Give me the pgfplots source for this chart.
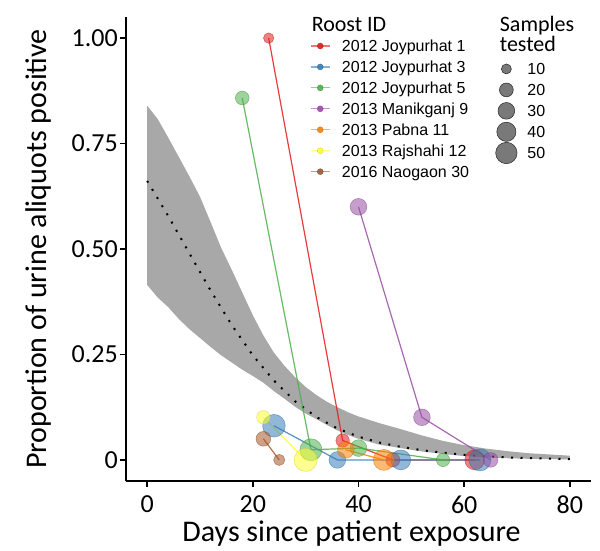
\documentclass[border=0pt]{standalone}
\usepackage{pgfplots}
\pgfplotsset{compat=1.18}
\usepackage{pgfplotstable}
\usepgfplotslibrary{fillbetween}
\usepackage{fontspec}
\setmainfont{Carlito}
\newfontfamily\arial{Liberation Sans}

\definecolor{cR}{HTML}{E41A1C}
\definecolor{cB}{HTML}{377EB8}
\definecolor{cG}{HTML}{4DAF4A}
\definecolor{cP}{HTML}{984EA3}
\definecolor{cO}{HTML}{FF7F00}
\definecolor{cY}{HTML}{FFFF33}
\definecolor{cN}{HTML}{A65628}
\definecolor{band}{RGB}{168,168,168}

% model fit band
\pgfplotstableread{
x y
0 0.840
2 0.808
4 0.764
6 0.718
8 0.672
10 0.624
12 0.564
14 0.503
16 0.451
18 0.397
20 0.343
22 0.295
24 0.254
26 0.223
28 0.196
30 0.173
32 0.154
34 0.138
36 0.125
38 0.113
40 0.103
44 0.087
48 0.073
52 0.058
56 0.045
60 0.035
64 0.027
68 0.021
72 0.016
76 0.013
80 0.010
}\bandU
\pgfplotstableread{
x y
0 0.415
2 0.385
4 0.362
6 0.334
8 0.310
10 0.289
12 0.268
14 0.248
16 0.231
18 0.214
20 0.199
22 0.183
24 0.163
26 0.145
28 0.126
30 0.110
32 0.097
34 0.083
36 0.070
38 0.059
40 0.050
44 0.036
48 0.028
52 0.020
56 0.014
60 0.009
64 0.006
68 0.004
72 0.0027
76 0.0018
80 0.0012
}\bandL
\pgfplotstableread{
x y
0 0.6615
4 0.578
8 0.4895
12 0.402
16 0.320
20 0.248
24 0.188
28 0.139
32 0.1018
36 0.0745
40 0.055
44 0.041
48 0.031
52 0.023
56 0.017
60 0.012
64 0.0085
68 0.006
72 0.0042
76 0.003
80 0.002
}\fitC

% roosts: day, proportion, samples tested
\pgfplotstableread{
x y n
23 1.000 11
37 0.046 19
46.5 0 21
62 0 43
}\jA
\pgfplotstableread{
x y n
24 0.081 56
36 0 30
48 0 43
63 0 53
}\jB
\pgfplotstableread{
x y n
18 0.858 20
31 0.024 53
40 0.028 30
56 0 19
}\jC
\pgfplotstableread{
x y n
40 0.600 30
52 0.101 30
65 0 23
}\mA
\pgfplotstableread{
x y n
37.6 0.024 30
44.8 0 48
}\pA
\pgfplotstableread{
x y n
22 0.101 19
30 0 58
}\rA
\pgfplotstableread{
x y n
22 0.050 23
25 0 13
}\nA

\pgfplotsset{
  ln/.style={no marks, draw=#1, draw opacity=0.85, line width=1.2pt, forget plot},
  pts/.style={scatter, only marks, mark=*, forget plot,
    visualization depends on={sqrt(2.6+2.24*\thisrow{n}) \as \msize},
    scatter/@pre marker code/.code={\edef\tmpopts{mark size=\msize pt}\expandafter\scope\expandafter[\tmpopts, draw=#1!80!black, fill=#1, fill opacity=0.55, draw opacity=0.5, line width=0.6pt]},
    scatter/@post marker code/.code={\endscope}},
  lg/.style={draw=#1, draw opacity=0.6, line width=1.2pt, mark=*, mark size=3pt,
    mark options={fill=#1, draw=#1!80!black, draw opacity=0.8, fill opacity=0.9, line width=0.4pt}},
}

\begin{document}
\begin{tikzpicture}[x=1pt,y=1pt]
\begin{axis}[
  at={(126pt,70pt)}, anchor=south west,
  scale only axis, width=465pt, height=464pt,
  xmin=-4, xmax=84, ymin=-0.05, ymax=1.05,
  clip=false,
  axis lines=left,
  axis line style={-, line width=1.5pt, black},
  tick align=outside,
  major tick length=6pt,
  tick style={line width=1.5pt, black},
  xtick={0,20,40,60,80},
  ytick={0,0.25,0.5,0.75,1},
  yticklabels={0,0.25,0.50,0.75,1.00},
  /pgf/number format/assume math mode=true,
  tick label style={font=\fontsize{26}{26}\selectfont, inner sep=0pt},
  xticklabel style={anchor=north, yshift=-8.7pt},
  yticklabel style={anchor=east, xshift=-2pt},
  xlabel={Days since patient exposure},
  ylabel={Proportion of urine aliquots positive},
  every axis x label/.style={at={(axis description cs:0.485,-0.131)}, anchor=base, inner sep=0pt, font=\fontsize{30}{30}\selectfont},
  every axis y label/.style={at={(axis description cs:-0.17,0.5)}, rotate=90, anchor=base, inner sep=0pt, font=\fontsize{30}{30}\selectfont},
  legend cell align=left,
  legend style={at={(axis description cs:0.3957,0.9601)}, anchor=north west,
    draw=none, fill=none, inner sep=0pt, outer sep=0pt, row sep=0pt, column sep=11.4pt,
    font=\arial\fontsize{16}{16}\selectfont,
    nodes={inner sep=0pt, text height=16.3pt, text depth=4.65pt}},
  legend image code/.code={
    \draw[#1, mark=none] (0pt,0pt) -- (19.3pt,0pt);
    \draw[#1, only marks] plot coordinates {(9.65pt,0pt)};
  },
]
\addlegendimage{lg=cR}\addlegendentry{2012 Joypurhat 1}
\addlegendimage{lg=cB}\addlegendentry{2012 Joypurhat 3}
\addlegendimage{lg=cG}\addlegendentry{2012 Joypurhat 5}
\addlegendimage{lg=cP}\addlegendentry{2013 Manikganj 9}
\addlegendimage{lg=cO}\addlegendentry{2013 Pabna 11}
\addlegendimage{lg=cY}\addlegendentry{2013 Rajshahi 12}
\addlegendimage{lg=cN}\addlegendentry{2016 Naogaon 30}

\addplot[name path=U, draw=none, forget plot] table {\bandU};
\addplot[name path=L, draw=none, forget plot] table {\bandL};
\addplot[fill=band, draw=none, forget plot] fill between[of=U and L];
\addplot[no marks, black, line width=2pt, dash pattern=on 2pt off 7.5pt, forget plot] table {\fitC};

\addplot[ln=cR] table {\jA};
\addplot[ln=cB] table {\jB};
\addplot[ln=cG] table {\jC};
\addplot[ln=cP] table {\mA};
\addplot[ln=cO] table {\pA};
\addplot[ln=cY] table {\rA};
\addplot[ln=cN] table {\nA};

\addplot[pts=cR] table {\jA};
\addplot[pts=cB] table {\jB};
\addplot[pts=cG] table {\jC};
\addplot[pts=cP] table {\mA};
\addplot[pts=cO] table {\pA};
\addplot[pts=cY] table {\rA};
\addplot[pts=cN] table {\nA};

\node[anchor=base west, font=\fontsize{22}{22}\selectfont, inner sep=0pt] at (axis cs:31.12,1.015) {Roost ID};
\node[anchor=base west, font=\fontsize{22}{22}\selectfont, inner sep=0pt] at (axis cs:66.72,1.015) {Samples};
\node[anchor=base west, font=\fontsize{22}{22}\selectfont, inner sep=0pt] at (axis cs:66.72,0.9675) {tested};
\end{axis}

\begin{axis}[
  at={(126pt,70pt)}, anchor=south west,
  scale only axis, width=465pt, height=464pt,
  xmin=0, xmax=1, ymin=0, ymax=1, hide axis,
  legend cell align=left,
  legend style={at={(axis description cs:0.795,0.9106)}, anchor=north west,
    draw=none, fill=none, inner sep=0pt, outer sep=0pt, row sep=0pt, column sep=10.3pt,
    font=\arial\fontsize{16}{16}\selectfont,
    nodes={inner sep=0pt, text height=16.3pt, text depth=4.65pt}},
  legend image code/.code={\draw[#1] plot coordinates {(0pt,0pt)};},
]
\addplot[draw=none, forget plot] coordinates {(0,0) (1,1)};
\addlegendimage{only marks, mark=*, mark size=5.0pt, mark options={fill=black!62, draw=black!85, fill opacity=0.85, line width=0.5pt}}
\addlegendentry{10}
\addlegendimage{only marks, mark=*, mark size=6.9pt, mark options={fill=black!62, draw=black!85, fill opacity=0.85, line width=0.5pt}}
\addlegendentry{20}
\addlegendimage{only marks, mark=*, mark size=8.35pt, mark options={fill=black!62, draw=black!85, fill opacity=0.85, line width=0.5pt}}
\addlegendentry{30}
\addlegendimage{only marks, mark=*, mark size=9.6pt, mark options={fill=black!62, draw=black!85, fill opacity=0.85, line width=0.5pt}}
\addlegendentry{40}
\addlegendimage{only marks, mark=*, mark size=10.7pt, mark options={fill=black!62, draw=black!85, fill opacity=0.85, line width=0.5pt}}
\addlegendentry{50}
\end{axis}
\pgfresetboundingbox
\path[use as bounding box] (0,0) rectangle (600,551);
\end{tikzpicture}
\end{document}
